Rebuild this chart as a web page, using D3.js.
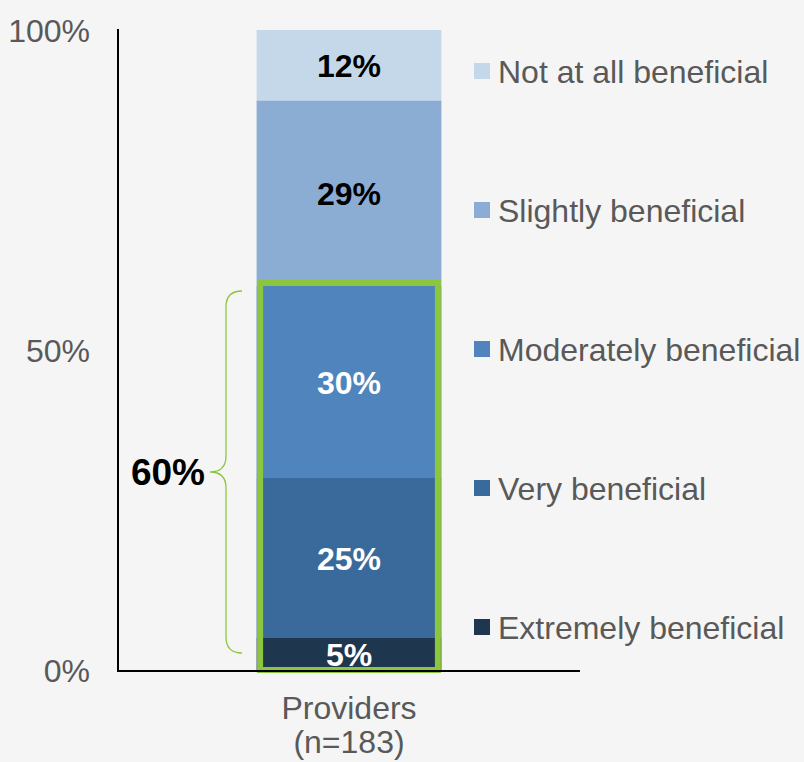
<!DOCTYPE html>
<html>
<head>
<meta charset="utf-8">
<script src="https://cdn.jsdelivr.net/npm/d3@7"></script>
<style>
  body { margin: 0; background: #f5f5f5; }
  text { font-family: Arial, "Liberation Sans", sans-serif; }
</style>
</head>
<body>
<script>
// stacked bottom to top
let groups = ["Providers"];
let groupNote = "(n=183)";
let categories = [
    "Extremely beneficial",
    "Very beneficial",
    "Moderately beneficial",
    "Slightly beneficial",
    "Not at all beneficial"
];
let values = [5, 25, 30, 29, 12];
let colors = ["#1f364f", "#3a6a9b", "#4f84bd", "#8badd4", "#c5d8ea"];
let labelColors = ["#ffffff", "#ffffff", "#ffffff", "#000000", "#000000"];
let yTicks = [0, 50, 100];
let bracketFrom = 0, bracketTo = 60;
let bracketLabel = "60%";

function main() {
    let svg = d3.select("body").append("svg")
        .attr("width", 804)
        .attr("height", 762)
        .style("background", "#f5f5f5");

    let xScale = d3.scaleBand().domain(groups).range([118, 580])
        .paddingInner(0).paddingOuter(0.75);
    let yScale = d3.scaleLinear().domain([0, 100]).range([670, 30]).clamp(true);

    // stack the segments
    let stack = [];
    let acc = 0;
    values.forEach((v, i) => {
        stack.push({ cat: categories[i], v: v, y0: acc, y1: acc + v, i: i });
        acc += v;
    });

    let bx = xScale(groups[0]), bw = xScale.bandwidth();

    svg.selectAll("rect.seg")
        .data(stack)
        .enter()
        .append("rect")
        .attr("class", "seg")
        .attr("x", bx)
        .attr("width", bw)
        .attr("y", d => yScale(d.y1))
        .attr("height", d => yScale(d.y0) - yScale(d.y1))
        .attr("fill", d => colors[d.i]);

    // green highlight box
    svg.append("rect")
        .attr("x", bx + 3.5)
        .attr("width", bw - 7)
        .attr("y", yScale(bracketTo) - 3)
        .attr("height", yScale(bracketFrom) - yScale(bracketTo) + 3)
        .attr("fill", "none")
        .attr("stroke", "#8cc63f")
        .attr("stroke-width", 6);

    svg.selectAll("text.val")
        .data(stack)
        .enter()
        .append("text")
        .attr("class", "val")
        .attr("x", bx + bw / 2)
        .attr("y", d => (yScale(d.y0) + yScale(d.y1)) / 2)
        .attr("dy", "0.36em")
        .attr("text-anchor", "middle")
        .style("font-size", "32px")
        .style("font-weight", "bold")
        .attr("fill", d => labelColors[d.i])
        .text(d => d.v + "%");

    // axes lines
    svg.append("line")
        .attr("x1", 118).attr("x2", 118)
        .attr("y1", yScale(100) - 1).attr("y2", yScale(0) + 1)
        .attr("stroke", "#000").attr("stroke-width", 2);
    svg.append("line")
        .attr("x1", 117).attr("x2", 580)
        .attr("y1", yScale(0) + 1).attr("y2", yScale(0) + 1)
        .attr("stroke", "#000").attr("stroke-width", 2);

    svg.selectAll("text.tick")
        .data(yTicks)
        .enter()
        .append("text")
        .attr("class", "tick")
        .attr("x", 90)
        .attr("y", d => yScale(d))
        .attr("dy", "0.36em")
        .attr("text-anchor", "end")
        .style("font-size", "32px")
        .attr("fill", "#595959")
        .text(d => d + "%");

    // x labels
    svg.append("text")
        .attr("x", bx + bw / 2)
        .attr("y", 719)
        .attr("text-anchor", "middle")
        .style("font-size", "32px")
        .attr("fill", "#595959")
        .text(groups[0]);
    svg.append("text")
        .attr("x", bx + bw / 2)
        .attr("y", 753)
        .attr("text-anchor", "middle")
        .style("font-size", "32px")
        .attr("fill", "#595959")
        .text(groupNote);

    // curly brace
    let top = yScale(bracketTo) + 5, bot = yScale(bracketFrom) - 17;
    let mid = (top + bot) / 2;
    let xr = 242, xm = 226, xt = 210, r = 16;
    let p = d3.path();
    p.moveTo(xr, top);
    p.quadraticCurveTo(xm, top, xm, top + r);
    p.lineTo(xm, mid - r);
    p.quadraticCurveTo(xm, mid, xt, mid);
    p.quadraticCurveTo(xm, mid, xm, mid + r);
    p.lineTo(xm, bot - r);
    p.quadraticCurveTo(xm, bot, xr, bot);
    svg.append("path")
        .attr("d", p.toString())
        .attr("fill", "none")
        .attr("stroke", "#8cc63f")
        .attr("stroke-width", 1.3);

    svg.append("text")
        .attr("x", 205)
        .attr("y", mid)
        .attr("dy", "0.36em")
        .attr("text-anchor", "end")
        .style("font-size", "37px")
        .style("font-weight", "bold")
        .attr("fill", "#000")
        .text(bracketLabel);

    // legend, top to bottom reversed
    let legendScale = d3.scalePoint().domain(categories.slice().reverse()).range([71, 627]);
    let leg = svg.selectAll("g.leg")
        .data(categories)
        .enter()
        .append("g")
        .attr("class", "leg")
        .attr("transform", d => `translate(474, ${legendScale(d)})`);
    leg.append("rect")
        .attr("x", 0).attr("y", -8)
        .attr("width", 16).attr("height", 16)
        .attr("fill", (d, i) => colors[i]);
    leg.append("text")
        .attr("x", 24)
        .attr("dy", "0.36em")
        .style("font-size", "32px")
        .attr("fill", "#595959")
        .text(d => d);
}

main()
</script>
</body>
</html>
